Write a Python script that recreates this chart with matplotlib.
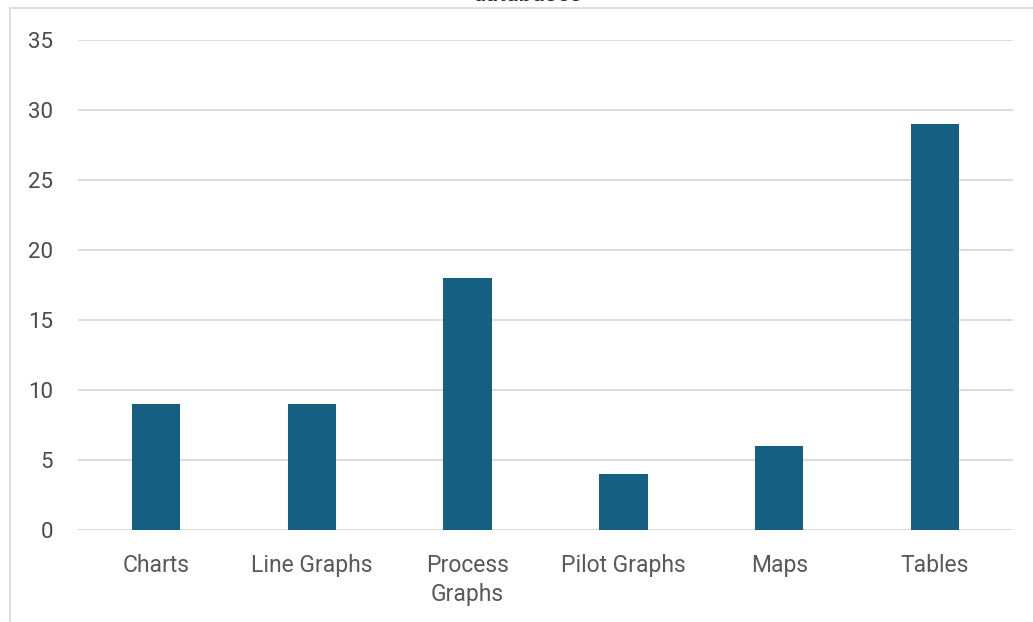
import numpy as np
import matplotlib.pyplot as plt
from matplotlib.patches import Rectangle

categories = ["Charts", "Line Graphs", "Process\nGraphs", "Pilot Graphs", "Maps", "Tables"]
counts = [9, 9, 18, 4, 6, 29]
yticks = [0, 5, 10, 15, 20, 25, 30, 35]

plt.rcParams['font.family'] = ['Roboto', 'DejaVu Sans']

fig = plt.figure(figsize=(10.33, 6.22), dpi=100)
ax = fig.add_axes([78/1033, (622-530)/622, (1013-78)/1033, (530-40)/622])

x = np.arange(len(categories))
ax.bar(x, counts, width=0.31, color='#156082', zorder=3)

ax.set_xlim(-0.5, len(categories) - 0.5)
ax.set_ylim(0, 35)
ax.set_yticks(yticks)
ax.set_xticks(x)
ax.set_xticklabels(categories, fontsize=16.5, color='#595959', linespacing=1.35)
ax.tick_params(axis='y', labelsize=16, labelcolor='#4a4a4a', length=0, pad=18)
ax.tick_params(axis='x', length=0, pad=17)

ax.grid(axis='y', color='#d9d9d9', lw=1.3, zorder=0)
for s in ax.spines.values():
    s.set_visible(False)

# chart frame and the clipped title above it
fig.patches.append(Rectangle((10/1033, -0.1), 1.2, (622-8)/622 + 0.1,
                             transform=fig.transFigure, fill=False,
                             edgecolor='#d9d9d9', lw=1.2))
fig.text(527/1033, 1.0 - 1/622, "databases", ha='center', va='baseline',
         fontsize=17, color='#262626', fontweight='medium')

fig.savefig("out.png", dpi=100)
